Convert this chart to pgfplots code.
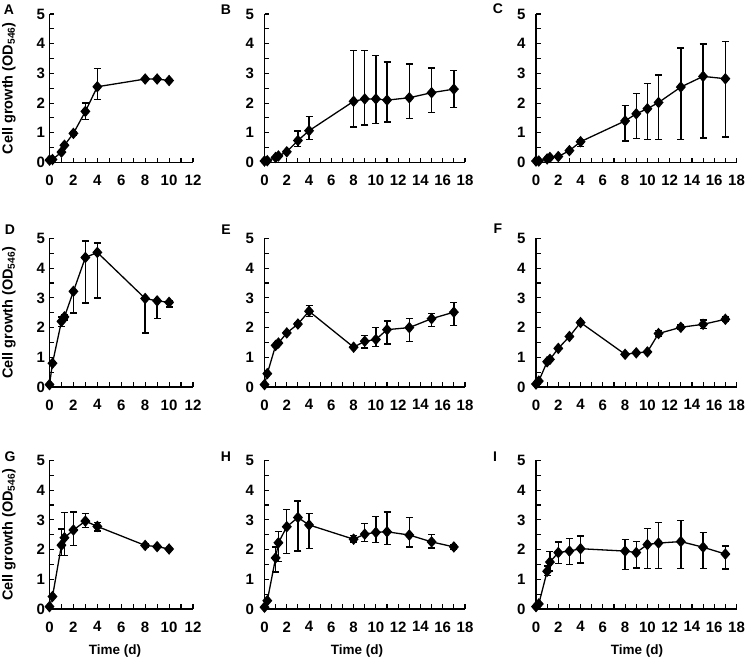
\documentclass[border=0pt]{standalone}
\usepackage{pgfplots}
\pgfplotsset{compat=1.18}
\usepackage{pgfplotstable}
\usepackage{fontspec}
\setmainfont{Liberation Sans}

\pgfplotstableread{
x y ep em
0 0.08 0 0
0.25 0.1 0 0
1 0.35 0.05 0.05
1.25 0.58 0.05 0.05
2 0.98 0.05 0.05
3 1.72 0.28 0.27
4 2.55 0.62 0.43
8 2.81 0 0
9 2.81 0 0
10 2.76 0 0
}\dataA
\pgfplotstableread{
x y ep em
0 0.05 0 0
0.25 0.06 0 0
1 0.17 0.03 0.03
1.25 0.22 0.03 0.03
2 0.36 0.05 0.05
3 0.74 0.32 0.2
4 1.07 0.48 0.29
8 2.06 1.71 0.86
9 2.14 1.63 0.88
10 2.14 1.47 0.82
11 2.1 1.29 0.74
13 2.18 1.13 0.7
15 2.35 0.83 0.66
17 2.47 0.62 0.61
}\dataB
\pgfplotstableread{
x y ep em
0 0.05 0 0
0.25 0.05 0 0
1 0.12 0 0
1.25 0.17 0 0
2 0.2 0 0
3 0.4 0 0
4 0.7 0.07 0.16
8 1.4 0.52 0.67
9 1.64 0.68 0.83
10 1.81 0.84 1.04
11 2.02 0.92 1.25
13 2.54 1.32 1.77
15 2.9 1.09 2.07
17 2.82 1.25 1.96
}\dataC
\pgfplotstableread{
x y ep em
0 0.08 0 0
0.25 0.8 0 0
1 2.21 0.15 0.18
1.25 2.36 0.06 0.1
2 3.22 0 0.73
3 4.36 0.56 1.53
4 4.53 0.32 1.53
8 2.98 0 1.16
9 2.9 0 0.6
10 2.85 0.05 0.15
}\dataD
\pgfplotstableread{
x y ep em
0 0.08 0 0
0.25 0.45 0 0
1 1.4 0 0
1.25 1.48 0 0
2 1.82 0 0
3 2.12 0.05 0.05
4 2.55 0.2 0.17
8 1.34 0.03 0.03
9 1.54 0.19 0.23
10 1.6 0.4 0.24
11 1.93 0.29 0.48
13 2.0 0.3 0.47
15 2.3 0.18 0.27
17 2.52 0.33 0.45
}\dataE
\pgfplotstableread{
x y ep em
0 0.1 0 0
0.25 0.2 0 0
1 0.85 0 0
1.25 0.93 0 0
2 1.3 0 0
3 1.7 0 0
4 2.17 0.06 0.06
8 1.1 0 0
9 1.15 0 0
10 1.18 0 0
11 1.8 0.1 0.1
13 2.01 0.08 0.08
15 2.11 0.15 0.15
17 2.28 0.08 0.08
}\dataF
\pgfplotstableread{
x y ep em
0 0.08 0 0
0.25 0.42 0 0
1 2.15 0.55 0.35
1.25 2.4 0.85 0.6
2 2.66 0.6 0.52
3 2.96 0.26 0.22
4 2.78 0.13 0.15
8 2.14 0.05 0.05
9 2.1 0 0
10 2.02 0 0
}\dataG
\pgfplotstableread{
x y ep em
0 0.06 0 0
0.25 0.28 0 0
1 1.72 0.37 0.48
1.25 2.23 0.37 0.63
2 2.77 0.59 0.9
3 3.08 0.56 1.13
4 2.83 0.39 0.79
8 2.35 0.12 0.09
9 2.52 0.36 0.24
10 2.58 0.53 0.35
11 2.6 0.66 0.43
13 2.49 0.59 0.4
15 2.26 0.25 0.2
17 2.09 0.09 0.09
}\dataH
\pgfplotstableread{
x y ep em
0 0.08 0 0
0.25 0.17 0 0
1 1.27 0.18 0.15
1.25 1.58 0.35 0.3
2 1.9 0.36 0.37
3 1.95 0.43 0.45
4 2.03 0.43 0.48
8 1.95 0.4 0.62
9 1.9 0.37 0.52
10 2.17 0.55 0.8
11 2.22 0.7 0.85
13 2.27 0.7 0.9
15 2.08 0.5 0.72
17 1.85 0.27 0.5
}\dataI

\newcommand{\tlfont}{\fontsize{15}{15}\selectfont\bfseries}
\pgfplotsset{
  panel/.style={
    scale only axis, anchor=south west,
    height=148.5pt,
    axis lines=left, axis line style={-, line width=1.4pt},
    ymin=0, ymax=5, ytick={0,...,5}, minor y tick num=1,
    minor x tick num=1,
    tick align=inside, major tick length=4.5pt, minor tick length=4.5pt,
    every tick/.style={line width=1.1pt, black},
    /pgf/number format/assume math mode=true,
    xticklabel={\tlfont\pgfmathprintnumber{\tick}},
    yticklabel={\tlfont\pgfmathprintnumber{\tick}},
    clip=false,
    xticklabel style={yshift=-9pt},
  },
  short/.style={panel, width=143.5pt, xmin=0, xmax=12, xtick={0,2,...,12},
    yticklabel style={xshift=-1pt}},
  long/.style={panel, width=200.5pt, xmin=0, xmax=18, xtick={0,2,...,18},
    yticklabel style={xshift=-7pt}},
  series/.style={black, line width=1.3pt, mark=diamond*, mark size=4.8pt,
    mark options={solid, xscale=1.15},
    error bars/.cd, y dir=both, y explicit,
    error bar style={line width=1.4pt},
    error mark options={rotate=90, line width=1.4pt, mark size=3.5pt}},
}
\newcommand{\ser}[1]{\addplot[series] table[x=x, y=y, y error plus=ep, y error minus=em] {#1};}

\begin{document}
\begin{tikzpicture}
\useasboundingbox (0pt,0pt) rectangle (746pt,660pt);
% row 1
\begin{axis}[short, at={(49.5pt,497.5pt)}] \ser{\dataA} \end{axis}
\begin{axis}[long, at={(264.5pt,497.5pt)}] \ser{\dataB} \end{axis}
\begin{axis}[long, at={(536pt,497.5pt)}] \ser{\dataC} \end{axis}
% row 2
\begin{axis}[short, at={(49.5pt,273pt)}] \ser{\dataD} \end{axis}
\begin{axis}[long, at={(264.5pt,273pt)}] \ser{\dataE} \end{axis}
\begin{axis}[long, at={(536pt,273pt)}] \ser{\dataF} \end{axis}
% row 3
\begin{axis}[short, at={(49.5pt,51pt)}] \ser{\dataG} \end{axis}
\begin{axis}[long, at={(264.5pt,51pt)}] \ser{\dataH} \end{axis}
\begin{axis}[long, at={(536pt,51pt)}] \ser{\dataI} \end{axis}

\tikzset{ylab/.style={rotate=90, font=\fontsize{14.5}{14.5}\selectfont\bfseries, inner sep=0pt},
  plab/.style={font=\fontsize{14}{14}\selectfont\bfseries, inner sep=0pt},
  xlab/.style={font=\fontsize{13.5}{13.5}\selectfont\bfseries, inner sep=0pt}}
\node[ylab] at (9pt,571.75pt) {Cell growth (OD\textsubscript{546})};
\node[ylab] at (9pt,347.25pt) {Cell growth (OD\textsubscript{546})};
\node[ylab] at (9pt,125.25pt) {Cell growth (OD\textsubscript{546})};

\node[plab] at (9pt,650.5pt) {A};
\node[plab] at (226pt,650pt) {B};
\node[plab] at (498pt,651pt) {C};
\node[plab] at (10pt,430pt) {D};
\node[plab] at (226pt,430pt) {E};
\node[plab] at (498pt,431pt) {F};
\node[plab] at (10pt,203pt) {G};
\node[plab] at (226pt,203pt) {H};
\node[plab] at (495pt,203pt) {I};

\node[xlab] at (115pt,9pt) {Time (d)};
\node[xlab] at (357pt,9pt) {Time (d)};
\node[xlab] at (637pt,9pt) {Time (d)};
\end{tikzpicture}
\end{document}
